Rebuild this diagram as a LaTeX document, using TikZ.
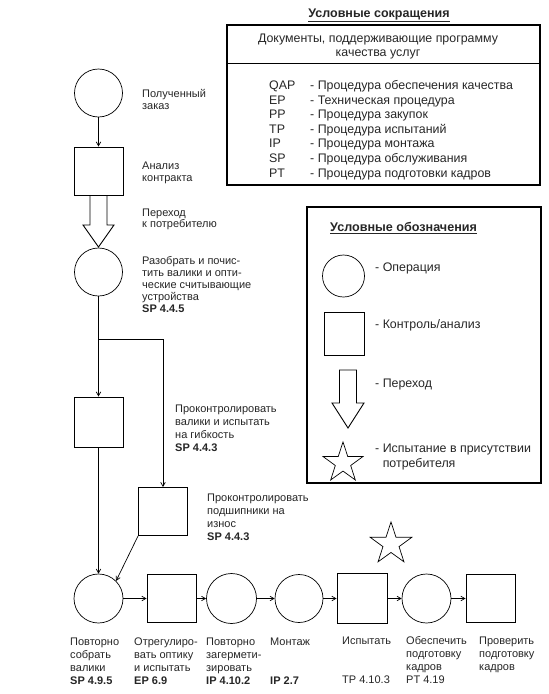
\documentclass[tikz,border=0pt]{standalone}
\usepackage{fontspec}
\setmainfont{Liberation Sans}
\usetikzlibrary{arrows.meta,shapes.geometric}
\newcommand\mylines[1]{\begin{tabular}[t]{@{}l@{}}#1\end{tabular}}
\newcommand\mycentered[1]{\begin{tabular}[t]{@{}c@{}}#1\end{tabular}}
\begin{document}
\begin{tikzpicture}[x=1pt,y=-1pt,
  every node/.style={inner sep=0pt},
  op/.style={circle,draw,line width=0.7pt,minimum size=48pt},
  ctl/.style={rectangle,draw,line width=0.9pt,minimum width=49pt,minimum height=48pt},
  lbl/.style={anchor=base west,font=\fontsize{11}{12.8}\selectfont,text=black!85},
  big/.style={font=\fontsize{12.4}{14.6}\selectfont},
  arr/.style={-{Straight Barb[length=4pt,width=4.5pt]},line width=0.7pt},
  conn/.style={line width=0.8pt},
  frame/.style={draw,line width=1.1pt},
  hollow/.style={draw,line width=0.9pt,line join=miter},
  starsh/.style={star,star points=5,star point ratio=2.6,draw,line width=0.7pt,minimum size=44pt}
]
\useasboundingbox (0,0) rectangle (549,694);

% ---------- top legend: abbreviations ----------
\node[lbl,anchor=base,font=\fontsize{12.5}{14}\selectfont\bfseries] (abtitle) at (379,17) {\underline{Условные сокращения}};
\draw[frame] (227,25) rectangle (540,185);
\draw[line width=0.9pt] (227,63) -- (540,63);
\node[lbl,anchor=base,font=\fontsize{12.4}{14}\selectfont] (abhead) at (378,42)
  {\mycentered{Документы, поддерживающие программу\\качества услуг}};
\node[lbl,big] (abcodes) at (269,89.5)
  {\mylines{QAP\\EP\\PP\\TP\\IP\\SP\\PT}};
\node[lbl,big] (abtext) at (310,89.5)
  {\mylines{- Процедура обеспечения качества\\- Техническая процедура\\- Процедура закупок\\- Процедура испытаний\\- Процедура монтажа\\- Процедура обслуживания\\- Процедура подготовки кадров}};

% ---------- right legend: symbols ----------
\draw[frame] (307,207) rectangle (541,483);
\node[lbl,font=\fontsize{12.6}{14}\selectfont\bfseries] (sytitle) at (330,231.5) {\underline{Условные обозначения}};
\node[op,minimum size=42pt] (lgop) at (343.5,276) {};
\node[lbl,big] (lgoptxt) at (375,271.5) {- Операция};
\node[ctl,minimum width=40pt,minimum height=43pt] (lgctl) at (344,333.5) {};
\node[lbl,big] (lgctltxt) at (375,328.5) {- Контроль/анализ};
\draw[hollow] (339.5,370) -- (339.5,403) -- (332,403) -- (348,428) -- (364,403) -- (356.5,403) -- (356.5,370) -- cycle;
\node[lbl,big] (lgtrtxt) at (375,387.5) {- Переход};
\node[starsh,minimum size=42pt] (lgstar) at (343,463) {};
\node[lbl,font=\fontsize{12.4}{15}\selectfont] (lgsttxt) at (375,452.5) {\mylines{- Испытание в присутствии\\\phantom{- }потребителя}};

% ---------- left column ----------
\node[op] (c1) at (98.5,93) {};
\node[lbl] (c1t) at (142,97) {\mylines{Полученный\\заказ}};
\node[ctl] (s1) at (98.5,171) {};
\node[lbl] (s1t) at (142,169) {\mylines{Анализ\\контракта}};
\draw[arr] (c1) -- (s1);
\draw[hollow] (90,195) -- (90,225) -- (83,225) -- (98.5,247) -- (114,225) -- (107,225) -- (107,195);
\node[lbl,font=\fontsize{11}{11.8}\selectfont] (trt) at (142,216) {\mylines{Переход\\к потребителю}};
\node[op] (c2) at (98.5,272) {};
\node[lbl,font=\fontsize{11}{12}\selectfont] (c2t) at (142,264)
  {\mylines{Разобрать и почис-\\тить валики и опти-\\ческие считывающие\\устройства\\\textbf{SP 4.4.5}}};

\coordinate (br) at (98.5,339);
\node[ctl,minimum height=50pt] (q1) at (98.5,422) {};
\node[lbl,font=\fontsize{11}{13}\selectfont] (q1t) at (175,412)
  {\mylines{Проконтролировать\\валики и испытать\\на гибкость\\\textbf{SP 4.4.3}}};
\node[ctl] (q2) at (163,511.5) {};
\node[lbl,font=\fontsize{11}{13}\selectfont] (q2t) at (207,501)
  {\mylines{Проконтролировать\\подшипники на\\износ\\\textbf{SP 4.4.3}}};
\draw[conn] (c2) -- (br);
\draw[conn,arr] (br) -- (q1);
\draw[conn,arr] (br) -| (q2.north);

% ---------- bottom row ----------
\node[op,minimum size=49pt] (b1) at (98.5,598.5) {};
\node[ctl] (b2) at (171.5,598.5) {};
\node[op,minimum size=50pt] (b3) at (231.5,598.5) {};
\node[op] (b4) at (299,598.5) {};
\node[ctl,minimum width=50pt,minimum height=50pt] (b5) at (362,598.5) {};
\node[op,minimum size=49pt] (b6) at (426.5,598.5) {};
\node[ctl] (b7) at (490.5,598.5) {};
\node[starsh] (bstar) at (391,544) {};

\draw[conn,arr] (q1) -- (b1);
\draw[conn,arr] (q2.south west) -- (b1.45);
\draw[arr] (b1) -- (b2);
\draw[arr] (b2) -- (b3);
\draw[arr] (b3) -- (b4);
\draw[arr] (b4) -- (b5);
\draw[arr] (b5) -- (b6);
\draw[arr] (b6) -- (b7);

\node[lbl,font=\fontsize{11}{13}\selectfont] (b1t) at (70,645.5) {\mylines{Повторно\\собрать\\валики\\\textbf{SP 4.9.5}}};
\node[lbl,font=\fontsize{11}{13}\selectfont] (b2t) at (134,645.5) {\mylines{Отрегулиро-\\вать оптику\\и испытать\\\textbf{EP 6.9}}};
\node[lbl,font=\fontsize{11}{13}\selectfont] (b3t) at (206,645.5) {\mylines{Повторно\\загермети-\\зировать\\\textbf{IP 4.10.2}}};
\node[lbl,font=\fontsize{11}{13}\selectfont] (b4t) at (270,645.5) {\mylines{Монтаж\\~\\~\\\textbf{IP 2.7}}};
\node[lbl,font=\fontsize{11}{13}\selectfont] (b5t) at (342,644) {\mylines{Испытать\\~\\~\\TP 4.10.3}};
\node[lbl,font=\fontsize{11}{13}\selectfont] (b6t) at (406,644) {\mylines{Обеспечить\\подготовку\\кадров\\PT 4.19}};
\node[lbl,font=\fontsize{11}{13}\selectfont] (b7t) at (479,644) {\mylines{Проверить\\подготовку\\кадров}};
\end{tikzpicture}
\end{document}
